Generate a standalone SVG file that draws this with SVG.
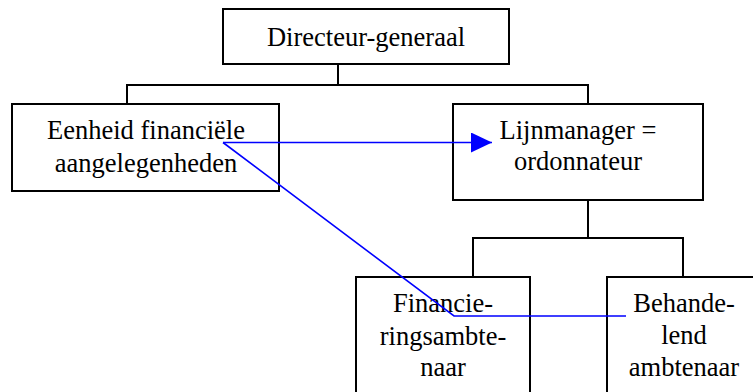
<svg xmlns="http://www.w3.org/2000/svg" width="753" height="392" viewBox="0 0 753 392">
<style>
.box{fill:#fff;stroke:#000;stroke-width:2}
.t{font-family:"Liberation Serif","Times New Roman",serif;font-size:26.5px;fill:#000;text-anchor:middle}
.ln{fill:none;stroke:#000;stroke-width:2}
.bl{fill:none;stroke:#0000ff;stroke-width:1.6}
</style>
<defs>
<marker id="ah" markerWidth="21" markerHeight="20" refX="21" refY="10" orient="auto" markerUnits="userSpaceOnUse">
<path d="M0,0 L21,10 L0,20 Z" fill="#0000ff"/>
</marker>
</defs>
<rect width="753" height="392" fill="#fff"/>
<g id="dg">
<rect class="box" x="223" y="9" width="286" height="55"/>
<text class="t" x="366" y="46">Directeur-generaal</text>
</g>
<g id="efa">
<rect class="box" x="12" y="104" width="267" height="87"/>
<text class="t" x="146" y="138.5">Eenheid financiële</text>
<text class="t" x="146" y="172">aangelegenheden</text>
</g>
<g id="lm">
<rect class="box" x="453" y="104" width="250" height="96"/>
<text class="t" x="578" y="138.5">Lijnmanager =</text>
<text class="t" x="578" y="170">ordonnateur</text>
</g>
<g id="fa">
<rect class="box" x="356" y="277" width="174" height="140"/>
<text class="t" x="443" y="312">Financie-</text>
<text class="t" x="443" y="345">ringsambte-</text>
<text class="t" x="443" y="376">naar</text>
</g>
<g id="ba">
<rect class="box" x="607" y="277" width="160" height="140"/>
<text class="t" x="684" y="312">Behande-</text>
<text class="t" x="684" y="344">lend</text>
<text class="t" x="684" y="376">ambtenaar</text>
</g>
<g id="connectors">
<path class="ln" d="M338,64 V85 M127,104 V85 H588 V104"/>
<path class="ln" d="M588,200 V238 M473,277 V238 H683 V277"/>
<path class="bl" d="M223,142.5 H492" marker-end="url(#ah)"/>
<path class="bl" d="M223,142.5 L454,316 H626"/>
</g>
</svg>
